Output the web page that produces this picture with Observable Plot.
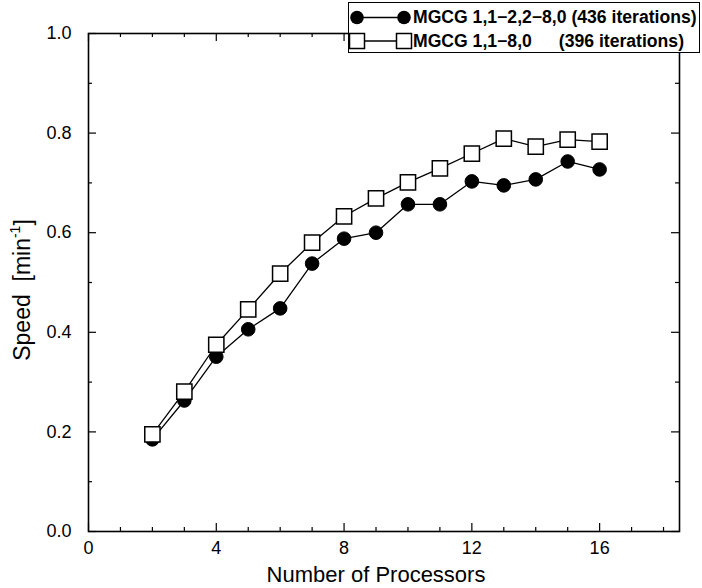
<!DOCTYPE html>
<html><head><meta charset="utf-8">
<script src="https://cdn.jsdelivr.net/npm/d3@7"></script>
<script src="https://cdn.jsdelivr.net/npm/@observablehq/plot@0.6"></script>
<style>
body{margin:0;background:#fff;font-family:"Liberation Sans",Arial,sans-serif;}
#wrap{position:relative;width:702px;height:588px;}
#legend{position:absolute;left:348px;top:2px;width:352px;height:51px;border:1.5px solid #000;background:#fff;box-sizing:border-box;}
#legend .t{position:absolute;font-weight:bold;font-size:17.6px;white-space:nowrap;line-height:1;}
#legend svg{position:absolute;left:0;top:0;}
</style></head><body>
<div id="wrap"></div>
<script>
const processors = [2,3,4,5,6,7,8,9,10,11,12,13,14,15,16];
const speedMixed = [0.185,0.263,0.351,0.406,0.448,0.538,0.588,0.600,0.657,0.657,0.703,0.695,0.707,0.743,0.727];
const speedUniform = [0.195,0.281,0.375,0.446,0.518,0.580,0.633,0.669,0.701,0.729,0.759,0.789,0.773,0.787,0.783];
const seriesNames = ["MGCG 1,1\u22122,2\u22128,0", "MGCG 1,1\u22128,0"];
const seriesIters = ["(436 iterations)", "(396 iterations)"];
const xTicks = [0,4,8,12,16];
const xMinor = [1,2,3,5,6,7,9,10,11,13,14,15,17,18];
const yTicks = [0,0.2,0.4,0.6,0.8,1.0];
const yMinor = [0.1,0.3,0.5,0.7,0.9];
const xLabel = "Number of Processors";

const W = 702, H = 588, mL = 88, mR = 23, mT = 33, mB = 57;
const fw = W - mL - mR, fh = H - mT - mB;

const dataA = processors.map((p,i)=>({p, s: speedMixed[i]}));
const dataB = processors.map((p,i)=>({p, s: speedUniform[i]}));

const chart = Plot.plot({
  width: W, height: H,
  marginLeft: mL, marginRight: mR, marginTop: mT, marginBottom: mB,
  style: {fontFamily: "'Liberation Sans', Arial, sans-serif", fontSize: "18px", color: "black", background: "white"},
  x: {domain: [0, 18.5]},
  y: {domain: [0, 1]},
  marks: [
    Plot.ruleX(xTicks, {x: d=>d, insetTop: fh-8, stroke: "black", strokeWidth: 1.2}),
    Plot.ruleX(xTicks, {x: d=>d, insetBottom: fh-8, stroke: "black", strokeWidth: 1.2}),
    Plot.ruleX(xMinor, {x: d=>d, insetTop: fh-4, stroke: "black", strokeWidth: 1.2}),
    Plot.ruleX(xMinor, {x: d=>d, insetBottom: fh-4, stroke: "black", strokeWidth: 1.2}),
    Plot.ruleY(yTicks, {y: d=>d, insetRight: fw-8, stroke: "black", strokeWidth: 1.2}),
    Plot.ruleY(yTicks, {y: d=>d, insetLeft: fw-8, stroke: "black", strokeWidth: 1.2}),
    Plot.ruleY(yMinor, {y: d=>d, insetRight: fw-4, stroke: "black", strokeWidth: 1.2}),
    Plot.ruleY(yMinor, {y: d=>d, insetLeft: fw-4, stroke: "black", strokeWidth: 1.2}),
    Plot.frame({stroke: "black", strokeWidth: 1.6}),
    Plot.axisX(xTicks, {tickSize: 0, tickPadding: 10, fontSize: 18, label: null}),
    Plot.axisY(yTicks, {tickSize: 0, tickPadding: 17, fontSize: 18, tickFormat: d3.format(".1f"), label: null}),
    Plot.text([xLabel], {text: d=>d, frameAnchor: "bottom", dx: -8, dy: 43, fontSize: 22, lineAnchor: "middle"}),
    Plot.line(dataA, {x: "p", y: "s", stroke: "black", strokeWidth: 1.3}),
    Plot.dot(dataA, {x: "p", y: "s", r: 6.8, fill: "black", stroke: "black", strokeWidth: 1}),
    Plot.line(dataB, {x: "p", y: "s", stroke: "black", strokeWidth: 1.3}),
    Plot.dot(dataB, {x: "p", y: "s", symbol: "square", r: 8.6, fill: "white", stroke: "black", strokeWidth: 1.5})
  ]
});

const wrap = document.getElementById("wrap");
wrap.appendChild(chart);

// y-axis title with superscript
const svg = d3.select(chart);
const yt = svg.append("text")
  .attr("transform", "translate(24,290) rotate(-90)")
  .attr("text-anchor", "middle")
  .attr("dominant-baseline", "middle")
  .attr("font-size", 23)
  .attr("fill", "black");
yt.append("tspan").text("Speed  [min");
yt.append("tspan").attr("font-size", 14).attr("dy", "-0.6em").text("-1");
yt.append("tspan").attr("dy", "0.4em").text("]");

// legend
const lg = document.createElement("div");
lg.id = "legend";
const ls = d3.create("svg").attr("width", 70).attr("height", 48);
ls.append("line").attr("x1", 8).attr("x2", 55).attr("y1", 14.5).attr("y2", 14.5).attr("stroke", "black").attr("stroke-width", 1.3);
[8,55].forEach(x => ls.append("circle").attr("cx", x).attr("cy", 14.5).attr("r", 6.8).attr("fill", "black"));
ls.append("line").attr("x1", 8).attr("x2", 55).attr("y1", 38).attr("y2", 38).attr("stroke", "black").attr("stroke-width", 1.3);
[8,55].forEach(x => ls.append("rect").attr("x", x-7.5).attr("y", 30.5).attr("width", 15).attr("height", 15).attr("fill", "white").attr("stroke", "black").attr("stroke-width", 1.5));
lg.appendChild(ls.node());
const addT = (txt, left, top, right) => { const d = document.createElement("div"); d.className = "t"; d.textContent = txt; if (right != null) d.style.right = right + "px"; else d.style.left = left + "px"; d.style.top = top + "px"; lg.appendChild(d); };
addT(seriesNames[0] + " " + seriesIters[0], 64, 6);
addT(seriesNames[1], 64, 30);
addT(seriesIters[1], null, 30, 15);
wrap.appendChild(lg);
</script>
</body></html>
